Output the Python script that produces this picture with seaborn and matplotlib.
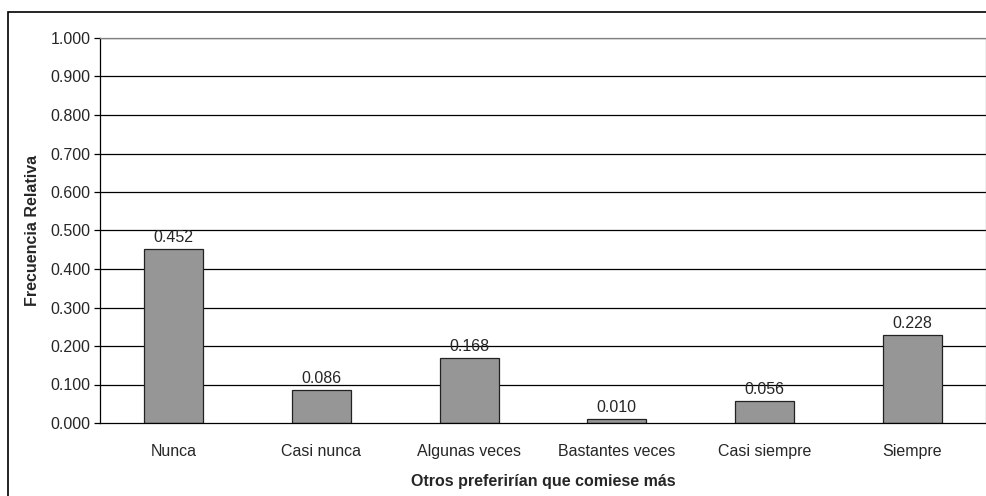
import matplotlib
matplotlib.use("Agg")
import matplotlib.pyplot as plt
import seaborn as sns
import pandas as pd
from matplotlib.patches import Rectangle

categorias = ["Nunca", "Casi nunca", "Algunas veces", "Bastantes veces", "Casi siempre", "Siempre"]
frecuencias = [0.452, 0.086, 0.168, 0.010, 0.056, 0.228]
ticks_y = [0.0, 0.1, 0.2, 0.3, 0.4, 0.5, 0.6, 0.7, 0.8, 0.9, 1.0]

sns.set_style("white")
plt.rcParams['font.family'] = ['Liberation Sans', 'DejaVu Sans']
fs = 11.5

df = pd.DataFrame({"categoria": categorias, "frecuencia": frecuencias})

fig = plt.figure(figsize=(9.87, 4.96), dpi=100)
ax = fig.add_axes([100/987, 1 - 423/496, 886/987, 385/496])

# lineas de rejilla por detras de las barras
for t in ticks_y[1:]:
    ax.axhline(t, color='black', lw=0.9, zorder=0)

sns.barplot(data=df, x="categoria", y="frecuencia", color="#969696",
            edgecolor="#222222", linewidth=0.9, width=0.4, saturation=1, ax=ax, zorder=2)

ax.bar_label(ax.containers[0], fmt='%.3f', padding=3, fontsize=fs)

ax.set_ylim(0, 1.0)
ax.set_xlim(-0.5, 5.5)
ax.set_yticks(ticks_y)
ax.set_yticklabels([f"{t:.3f}" for t in ticks_y], fontsize=fs)
ax.tick_params(axis='y', length=4, width=0.9, color='black', pad=3, left=True)
ax.tick_params(axis='x', length=0, pad=15, labelsize=fs)

ax.set_xlabel("Otros preferirían que comiese más", fontsize=fs, fontweight='bold', labelpad=11)
ax.set_ylabel("Frecuencia Relativa", fontsize=fs, fontweight='bold', labelpad=7)

for lado in ['left', 'bottom']:
    ax.spines[lado].set_color('black')
    ax.spines[lado].set_linewidth(0.9)
for lado in ['top', 'right']:
    ax.spines[lado].set_color('#808080')
    ax.spines[lado].set_linewidth(0.9)

# marco exterior del grafico
fig.add_artist(Rectangle((8/987, -0.1), 1.0, 1.1 - 12/496, transform=fig.transFigure,
                         fill=False, edgecolor='black', lw=1.2))

fig.savefig("out.png", dpi=100)
